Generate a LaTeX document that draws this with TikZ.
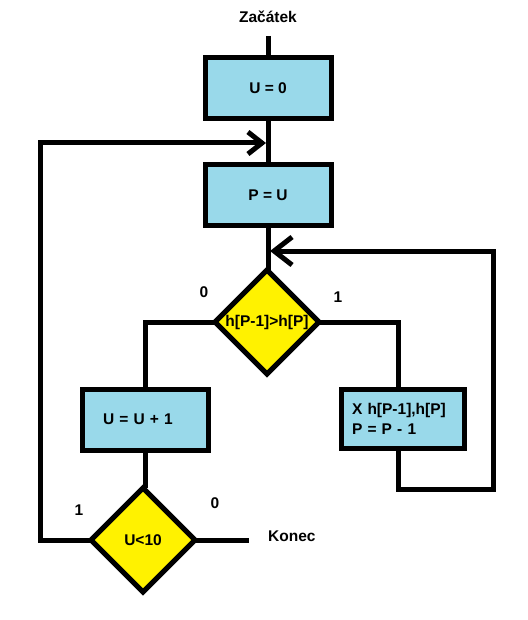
\documentclass[tikz,border=0pt]{standalone}
\usepackage{fontspec}
\setmainfont{Liberation Sans}
\usetikzlibrary{shapes.geometric,arrows.meta}
\definecolor{boxblue}{RGB}{153,217,234}
\definecolor{dyellow}{RGB}{255,242,0}
\begin{document}
\begin{tikzpicture}[x=1pt,y=-1pt,
  every node/.style={font=\bfseries\fontsize{15.5}{20}\selectfont},
  procbox/.style={draw, line width=5pt, fill=boxblue, minimum width=126pt, minimum height=61pt, inner sep=0pt, outer sep=0pt},
  decision/.style={diamond, draw, line width=5pt, fill=dyellow, minimum width=104pt, minimum height=104pt, inner sep=0pt, outer sep=0pt},
  flow/.style={line width=5pt},
  barbA/.style={-{Straight Barb[length=14pt,width=22pt,line width=5pt]}},
  barbB/.style={-{Straight Barb[length=18pt,width=28pt,line width=5pt]}},
  lbl/.style={inner sep=0pt}
]
\useasboundingbox[fill=white] (0,0) rectangle (527,620);
% nodes
\node[lbl] (start) at (268,17) {Začátek};
\coordinate (s0) at (268,36);
\node[procbox] (u0) at (268,88) {U = 0};
\node[procbox] (pu) at (268,195) {P = U};
\node[decision] (d1) at (267,322) {\makebox[0pt]{h[P-1]>h[P]}};
\node[procbox, text width=84pt, align=left] (uu) at (145,419.5) {U = U + 1};
\node[procbox, minimum width=123pt, minimum height=59pt, text width=102pt, align=left] (xb) at (403,419) {X h[P-1],h[P]\\P = P - 1};
\node[decision] (d2) at (143,540) {\makebox[0pt]{U<10}};
\coordinate (kend) at (249,540);
\node[lbl, anchor=west] (konec) at (268,536) {Konec};
\coordinate (j1) at (266,143);
\coordinate (j2) at (270,251);
\coordinate (lc) at (40,540);
\coordinate (rc) at (493,489);
% branch labels
\node[lbl] (l0a) at (204,292) {0};
\node[lbl] (l1a) at (338,297) {1};
\node[lbl] (l1b) at (79,510) {1};
\node[lbl] (l0b) at (215,503) {0};
% connectors
\draw[flow] (s0) -- (u0.north);
\draw[flow] (u0.south) -- (pu.north);
\draw[flow] (pu.south) -- (pu.south |- d1.north);
\draw[flow] (d1.west) -| (uu.north);
\draw[flow] (d1.east) -| ([xshift=-5pt]xb.north);
\draw[flow] (uu.south) -- (uu.south |- d2.north);
\draw[flow] (d2.east) -- (kend);
\draw[flow, barbA] (d2.west) -- (lc) |- (j1);
\draw[flow, barbB] ([xshift=-5pt]xb.south) |- (rc) |- (j2);
\end{tikzpicture}
\end{document}
